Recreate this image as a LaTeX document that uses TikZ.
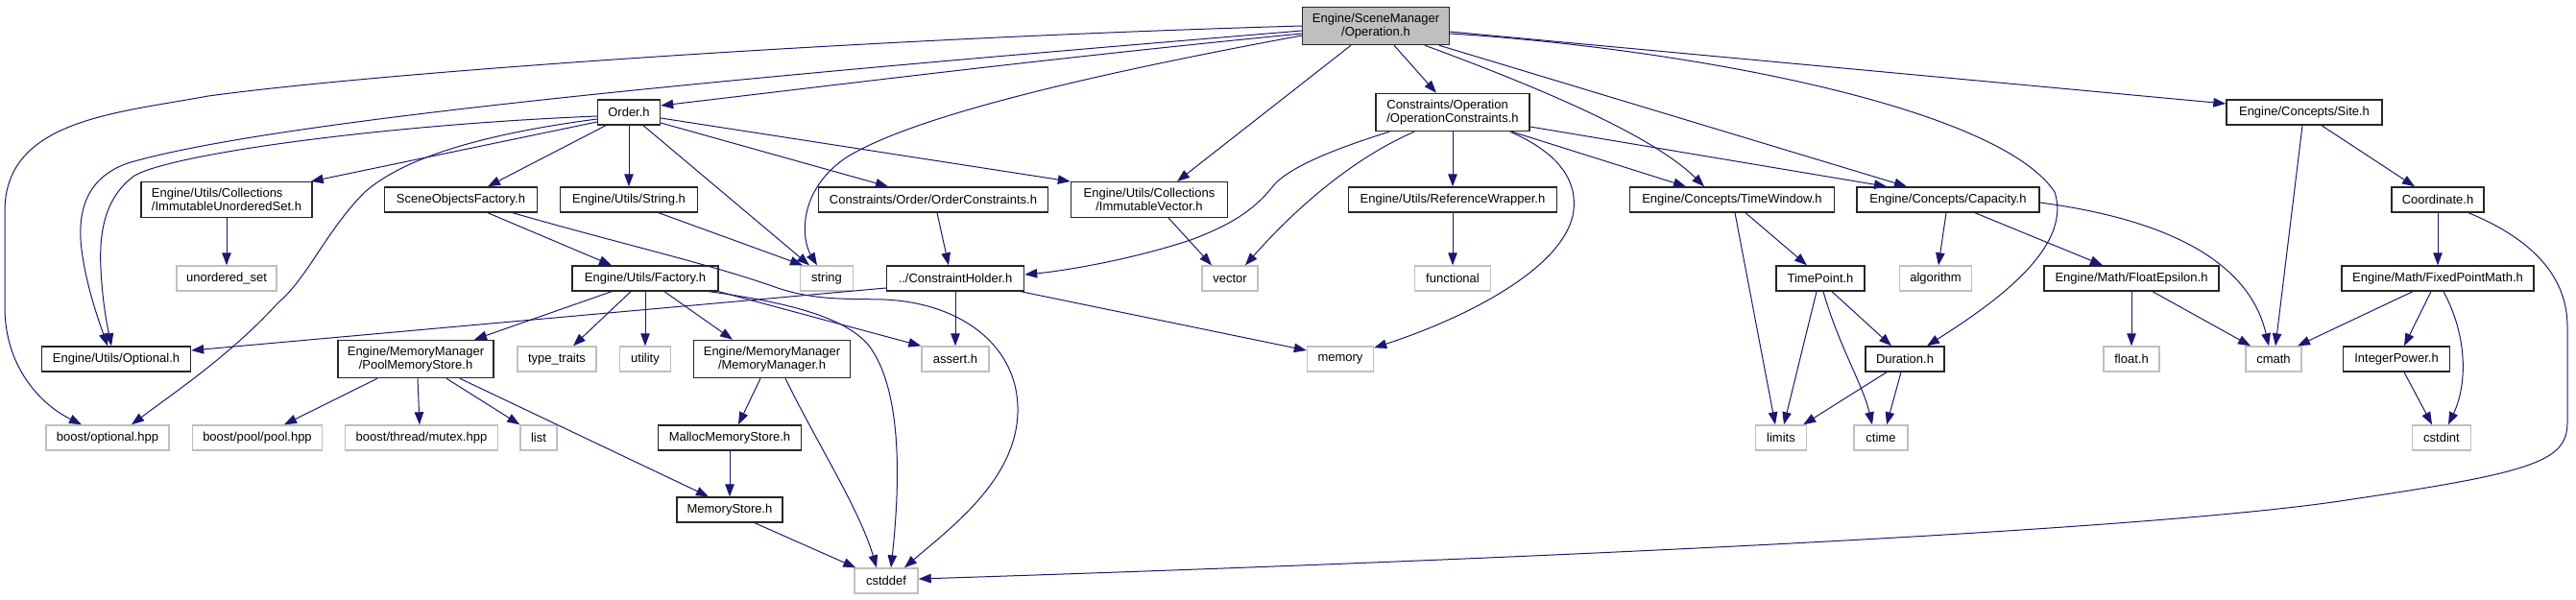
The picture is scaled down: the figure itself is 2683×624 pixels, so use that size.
\documentclass[tikz,border=0pt]{standalone}
\usepackage{fontspec}
\setmainfont{Liberation Sans}
\usetikzlibrary{arrows.meta}
\definecolor{edgeblue}{HTML}{191970}
\definecolor{sysgray}{HTML}{BFBFBF}
\tikzset{
  base/.style={draw, line width=1.4pt, fill=white, inner xsep=10pt, inner ysep=6.5pt,
    minimum height=26pt, font=\fontsize{13pt}{14pt}\selectfont, align=center},
  doc/.style={base, draw=black!85},
  sys/.style={base, draw=sysgray},
  top/.style={base, draw=black!85, fill=sysgray},
  e/.style={draw=edgeblue, line width=1pt, -{Triangle[length=13pt,width=9.5pt]}, fill=none}
}
\begin{document}
\begin{tikzpicture}[x=1pt,y=-1pt]
\useasboundingbox (0,0) rectangle (2683,624);
% rank 0
\node[top, minimum width=153pt] (op) at (1433,27) {Engine/SceneManager\\/Operation.h};
% rank 1
\node[doc, minimum width=65pt] (order) at (655,117) {Order.h};
\node[doc, minimum width=160pt, align=left] (constrop) at (1513,117) {Constraints/Operation\\/OperationConstraints.h};
\node[doc, minimum width=162pt] (site) at (2400,117) {Engine/Concepts/Site.h};
% rank 2
\node[doc, minimum width=178pt, align=left] (immset) at (236,208) {Engine/Utils/Collections\\/ImmutableUnorderedSet.h};
\node[doc, minimum width=159pt] (sof) at (480,208) {SceneObjectsFactory.h};
\node[doc, minimum width=143pt] (strh) at (655,208) {Engine/Utils/String.h};
\node[doc, minimum width=239pt] (ordc) at (972,208) {Constraints/Order/OrderConstraints.h};
\node[doc, minimum width=163pt] (immvec) at (1197,208) {Engine/Utils/Collections\\/ImmutableVector.h};
\node[doc, minimum width=217pt] (refw) at (1513,208) {Engine/Utils/ReferenceWrapper.h};
\node[doc, minimum width=213pt] (tw) at (1804,208) {Engine/Concepts/TimeWindow.h};
\node[doc, minimum width=190pt] (cap) at (2029,208) {Engine/Concepts/Capacity.h};
\node[doc, minimum width=96pt] (coord) at (2539,208) {Coordinate.h};
% rank 3
\node[sys, minimum width=104pt] (uset) at (236,290) {unordered\_set};
\node[doc, minimum width=152pt] (fac) at (672,290) {Engine/Utils/Factory.h};
\node[sys, minimum width=55pt] (string) at (861,290) {string};
\node[doc, minimum width=143pt] (ch) at (995,290) {../ConstraintHolder.h};
\node[sys, minimum width=58pt] (vector) at (1281,290) {vector};
\node[sys, minimum width=79pt] (functional) at (1513,290) {functional};
\node[doc, minimum width=92pt] (tp) at (1896,290) {TimePoint.h};
\node[sys, minimum width=75pt] (algo) at (2016,290) {algorithm};
\node[doc, minimum width=182pt] (feps) at (2220,290) {Engine/Math/FloatEpsilon.h};
\node[doc, minimum width=200pt] (fpm) at (2539,290) {Engine/Math/FixedPointMath.h};
% rank 4
\node[doc, minimum width=155pt] (opt) at (121,374) {Engine/Utils/Optional.h};
\node[doc, minimum width=162pt] (pool) at (433,374) {Engine/MemoryManager\\/PoolMemoryStore.h};
\node[sys, minimum width=82pt] (tt) at (580,374) {type\_traits};
\node[sys, minimum width=53pt] (util) at (672,374) {utility};
\node[doc, minimum width=163pt] (mm) at (804,374) {Engine/MemoryManager\\/MemoryManager.h};
\node[sys, minimum width=70pt] (assert) at (995,374) {assert.h};
\node[sys, minimum width=69pt] (memory) at (1396,374) {memory};
\node[doc, minimum width=82pt] (dur) at (1984,374) {Duration.h};
\node[sys, minimum width=58pt] (floath) at (2220,374) {float.h};
\node[sys, minimum width=58pt] (cmath) at (2368,374) {cmath};
\node[doc, minimum width=111pt] (ipow) at (2496,374) {IntegerPower.h};
% rank 5
\node[sys, minimum width=128pt] (bopt) at (112,456) {boost/optional.hpp};
\node[sys, minimum width=135pt] (bpool) at (268,456) {boost/pool/pool.hpp};
\node[sys, minimum width=159pt] (bmutex) at (439,456) {boost/thread/mutex.hpp};
\node[sys, minimum width=38pt] (list) at (561,456) {list};
\node[doc, minimum width=149pt] (malloc) at (760,456) {MallocMemoryStore.h};
\node[sys, minimum width=53pt] (limits) at (1855,456) {limits};
\node[sys, minimum width=56pt] (ctime) at (1959,456) {ctime};
\node[sys, minimum width=61pt] (cstdint) at (2543,456) {cstdint};
% rank 6
\node[doc, minimum width=110pt] (ms) at (760,531) {MemoryStore.h};
% rank 7
\node[sys, minimum width=66pt] (cstddef) at (923,605) {cstddef};

% edges from Operation.h
\draw[e] (op.west) .. controls (900,40) and (400,75) .. (217,100) .. controls (120,118) and (5,125) .. (5,220) -- (5,320) .. controls (5,380) and (40,420) .. ([xshift=-27pt]bopt.north);
\draw[e] ([yshift=-5pt]op.west) .. controls (900,70) and (300,120) .. (133,170) .. controls (90,185) and (80,220) .. (85,260) .. controls (90,300) and (105,340) .. ([xshift=-9pt]opt.north);
\draw[e] ([yshift=-8pt]op.west) .. controls (1100,60) and (900,85) .. ([yshift=7pt]order.east);
\draw[e] ([yshift=-10pt]op.west) .. controls (1150,75) and (950,120) .. (880,165) .. controls (830,200) and (835,250) .. ([xshift=-10pt]string.north);
\draw[e] ([xshift=-26pt]op.south) -- ([xshift=29pt]immvec.north);
\draw[e] ([xshift=19pt]op.south) -- ([xshift=-17pt]constrop.north);
\draw[e] ([xshift=51pt]op.south) .. controls (1600,90) and (1720,140) .. ([xshift=-29pt]tw.north);
\draw[e] ([xshift=66pt]op.south) -- ([xshift=-43pt]cap.north);
\draw[e] ([yshift=-6pt]op.east) -- ([yshift=9pt]site.west);
\draw[e] ([yshift=-8pt]op.east) .. controls (1750,50) and (2080,110) .. (2140,200) .. controls (2160,260) and (2070,320) .. ([xshift=23pt]dur.north);
% Order.h
\draw[e] ([yshift=-4pt]order.west) .. controls (400,130) and (180,160) .. (140,183) .. controls (110,205) and (103,240) .. (105,280) .. controls (107,320) and (113,345) .. ([xshift=-5pt]opt.north);
\draw[e] ([yshift=-7pt]order.west) .. controls (500,140) and (420,165) .. (380,200) .. controls (340,240) and (320,290) .. (290,315) .. controls (240,370) and (180,410) .. ([xshift=25pt]bopt.north);
\draw[e] ([yshift=-10pt]order.west) -- ([xshift=-2pt]immset.north east);
\draw[e] ([xshift=-24pt]order.south) -- ([xshift=28pt]sof.north);
\draw[e] (order.south) -- (strh.north);
\draw[e] ([xshift=15pt]order.south) -- ([xshift=-18pt]string.north);
\draw[e] ([yshift=-11pt]order.east) -- ([xshift=-47pt]ordc.north);
\draw[e] ([yshift=-6pt]order.east) -- (immvec.north west);
% rank 2 sources
\draw[e] (immset.south) -- (uset.north);
\draw[e] ([xshift=28pt]sof.south) -- ([xshift=-35pt]fac.north);
\draw[e] ([xshift=54pt]sof.south) .. controls (650,255) and (740,275) .. (810,300) .. controls (850,313) and (880,311) .. (920,312) .. controls (1000,315) and (1062,360) .. (1060,430) .. controls (1058,500) and (990,550) .. ([xshift=19pt]cstddef.north);
\draw[e] ([xshift=31pt]strh.south) -- ([xshift=-25pt]string.north);
\draw[e] ([xshift=4pt]ordc.south) -- ([xshift=-7pt]ch.north);
\draw[e] ([xshift=20pt]immvec.south) -- ([xshift=-19pt]vector.north);
% OperationConstraints.h
\draw[e] ([xshift=-66pt]constrop.south) .. controls (1390,155) and (1340,175) .. (1325,195) .. controls (1305,220) and (1280,235) .. (1240,250) .. controls (1180,270) and (1110,282) .. ([yshift=4pt]ch.east);
\draw[e] ([xshift=-40pt]constrop.south) .. controls (1420,160) and (1360,205) .. ([xshift=16pt]vector.north);
\draw[e] (constrop.south) -- (refw.north);
\draw[e] ([xshift=60pt]constrop.south) .. controls (1625,160) and (1645,190) .. (1638,225) .. controls (1625,280) and (1530,330) .. ([yshift=-2pt]memory.north east);
\draw[e] ([xshift=62pt]constrop.south) -- ([xshift=-48pt]tw.north);
\draw[e] ([yshift=-15pt]constrop.east) -- ([xshift=-64pt]cap.north);
\draw[e] (refw.south) -- (functional.north);
% ConstraintHolder.h
\draw[e] ([yshift=-10pt]ch.west) -- ([yshift=9pt]opt.east);
\draw[e] (ch.south) -- (assert.north);
\draw[e] ([xshift=-4pt]ch.south east) -- ([yshift=9pt]memory.west);
% Factory.h
\draw[e] ([xshift=-35pt]fac.south) -- ([xshift=61pt]pool.north);
\draw[e] ([xshift=-15pt]fac.south) -- ([xshift=17pt]tt.north);
\draw[e] (fac.south) -- (util.north);
\draw[e] ([xshift=20pt]fac.south) -- ([xshift=-41pt]mm.north);
\draw[e] (fac.south east) -- (assert.north west);
\draw[e] ([xshift=-10pt]fac.south east) .. controls (820,315) and (880,330) .. (905,360) .. controls (935,400) and (940,480) .. ([xshift=5pt]cstddef.north);
% memory manager
\draw[e] ([xshift=-40pt]pool.south) -- ([xshift=28pt]bpool.north);
\draw[e] ([xshift=2pt]pool.south) -- ([xshift=-2pt]bmutex.north);
\draw[e] ([xshift=32pt]pool.south) -- (list.north west);
\draw[e] ([xshift=46pt]pool.south) -- ([xshift=-22pt]ms.north);
\draw[e] ([xshift=-12pt]mm.south) -- ([xshift=9pt]malloc.north);
\draw[e] ([xshift=14pt]mm.south) .. controls (850,460) and (895,530) .. ([xshift=-10pt]cstddef.north);
\draw[e] (malloc.south) -- (ms.north);
\draw[e] ([xshift=26pt]ms.south) -- ([xshift=2pt]cstddef.north west);
% time
\draw[e] ([xshift=14pt]tw.south) -- ([xshift=-14pt]tp.north);
\draw[e] ([xshift=3pt]tw.south) -- ([xshift=-6pt]limits.north);
\draw[e] ([xshift=-4pt]tp.south) -- ([xshift=3pt]limits.north);
\draw[e] ([xshift=3pt]tp.south) .. controls (1915,360) and (1940,400) .. ([xshift=-9pt]ctime.north);
\draw[e] ([xshift=12pt]tp.south) -- ([xshift=-14pt]dur.north);
\draw[e] ([xshift=-19pt]dur.south) -- ([xshift=-4pt]limits.north east);
\draw[e] ([xshift=-4pt]dur.south) -- ([xshift=6pt]ctime.north);
% capacity, site
\draw[e] ([xshift=-2pt]cap.south) -- ([xshift=3pt]algo.north);
\draw[e] ([xshift=28pt]cap.south) -- ([xshift=-30pt]feps.north);
\draw[e] ([yshift=-3pt]cap.east) .. controls (2230,225) and (2340,260) .. ([xshift=-5pt]cmath.north);
\draw[e] ([xshift=-2pt]site.south) -- ([xshift=2pt]cmath.north);
\draw[e] ([xshift=18pt]site.south) -- ([xshift=-24pt]coord.north);
\draw[e] (coord.south) -- (fpm.north);
\draw[e] ([xshift=32pt]coord.south) .. controls (2640,250) and (2674,290) .. (2674,340) -- (2674,440) .. controls (2674,480) and (2640,492) .. (2450,520) .. controls (2200,560) and (1300,592) .. ([yshift=2pt]cstddef.east);
\draw[e] (feps.south) -- (floath.north);
\draw[e] ([xshift=22pt]feps.south) -- ([xshift=-24pt]cmath.north);
\draw[e] ([xshift=-26pt]fpm.south) -- ([xshift=25pt]cmath.north);
\draw[e] ([xshift=-7pt]fpm.south) -- ([xshift=8pt]ipow.north);
\draw[e] ([xshift=6pt]fpm.south) .. controls (2570,350) and (2570,400) .. ([xshift=7pt]cstdint.north);
\draw[e] ([xshift=8pt]ipow.south) -- ([xshift=-10pt]cstdint.north);
\end{tikzpicture}
\end{document}
